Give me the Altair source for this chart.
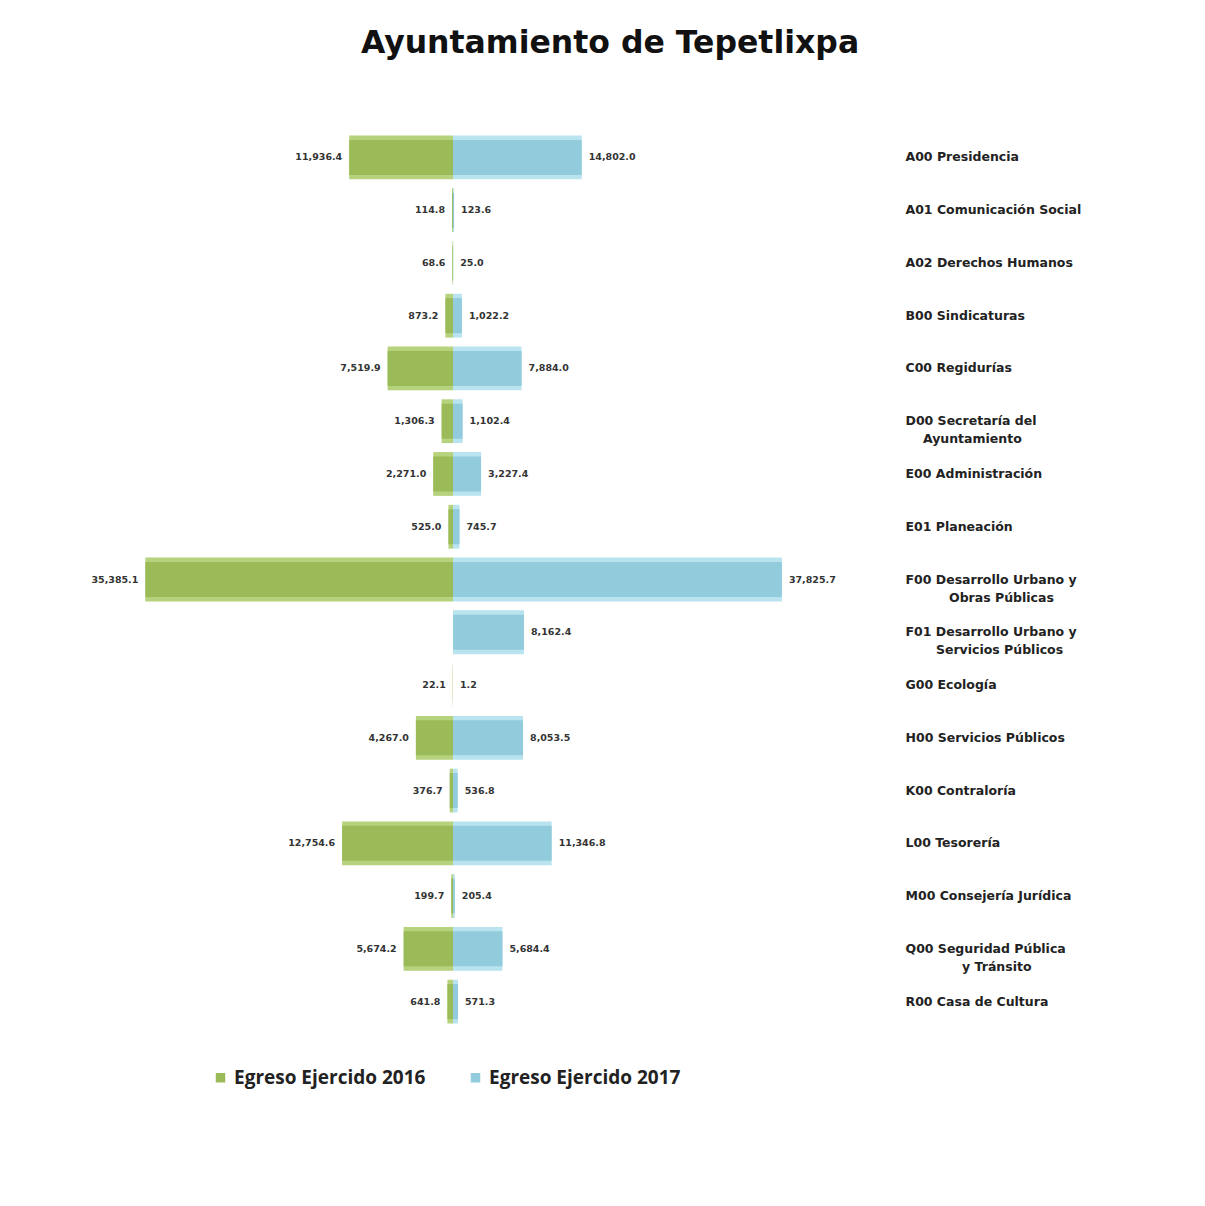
import altair as alt
import pandas as pd

ZW = "\u200b"
NB = "\u00a0"
categories = [
    "A00 Presidencia",
    "A01 Comunicación Social",
    "A02 Derechos Humanos",
    "B00 Sindicaturas",
    "C00 Regidurías",
    "D00 Secretaría del|" + ZW + NB * 4 + "Ayuntamiento",
    "E00 Administración",
    "E01 Planeación",
    "F00 Desarrollo Urbano y|" + ZW + NB * 10 + "Obras Públicas",
    "F01 Desarrollo Urbano y|" + ZW + NB * 7 + "Servicios Públicos",
    "G00 Ecología",
    "H00 Servicios Públicos",
    "K00 Contraloría",
    "L00 Tesorería",
    "M00 Consejería Jurídica",
    "Q00 Seguridad Pública|" + ZW + NB * 13 + "y Tránsito",
    "R00 Casa de Cultura",
]
v2016 = [11936.4, 114.8, 68.6, 873.2, 7519.9, 1306.3, 2271.0, 525.0, 35385.1,
         None, 22.1, 4267.0, 376.7, 12754.6, 199.7, 5674.2, 641.8]
v2017 = [14802.0, 123.6, 25.0, 1022.2, 7884.0, 1102.4, 3227.4, 745.7, 37825.7,
         8162.4, 1.2, 8053.5, 536.8, 11346.8, 205.4, 5684.4, 571.3]
series = ["Egreso Ejercido 2016", "Egreso Ejercido  2017"]
colors = ["#9BBB59", "#92CBDB"]
edge_colors = ["#B6D27C", "#B9E3EF"]

rows = []
for c, a, b in zip(categories, v2016, v2017):
    if a is not None:
        rows.append({"cat": c, "serie": series[0], "borde": series[0], "valor": a, "signed": -a})
    rows.append({"cat": c, "serie": series[1], "borde": series[1], "valor": b, "signed": b})
df = pd.DataFrame(rows)

y_enc = alt.Y(
    "cat:N",
    sort=categories,
    scale=alt.Scale(domain=categories, paddingInner=0.17, paddingOuter=0.085),
    axis=alt.Axis(
        orient="right", title=None, labelExpr="split(datum.label, '|')",
        labelAlign="left", labelBaseline="middle", labelPadding=79, ticks=False, domain=False,
        labelFont="DejaVu Sans", labelFontWeight="bold", labelFontSize=12.5,
        labelLineHeight=18, labelColor="#222222", labelLimit=300, grid=False,
    ),
)
x_enc = alt.X("signed:Q", scale=alt.Scale(domain=[-42900, 42900]), axis=None)

base = alt.Chart(df)

outer = base.mark_bar().encode(
    x=x_enc,
    x2=alt.datum(0),
    y=y_enc,
    color=alt.Color("borde:N", scale=alt.Scale(domain=series, range=edge_colors), legend=None),
)

inner = base.mark_bar(size=35).encode(
    x=x_enc,
    x2=alt.datum(0),
    y=y_enc,
    color=alt.Color(
        "serie:N",
        scale=alt.Scale(domain=series, range=colors),
        legend=alt.Legend(
            title=None, orient="none", legendX=131, legendY=937, direction="horizontal",
            symbolType="square", symbolSize=90, symbolStrokeWidth=0,
            labelFont="Open Sans", labelFontWeight="bold", labelFontSize=19,
            labelColor="#222222", columnPadding=40, labelLimit=400,
        ),
    ),
)

lab16 = base.transform_filter(alt.datum.serie == series[0]).mark_text(
    align="right", baseline="middle", dx=-7, font="DejaVu Sans",
    fontWeight="bold", fontSize=9.5, color="#333333",
).encode(x=x_enc, y=y_enc, text=alt.Text("valor:Q", format=",.1f"))

lab17 = base.transform_filter(alt.datum.serie == series[1]).mark_text(
    align="left", baseline="middle", dx=7, font="DejaVu Sans",
    fontWeight="bold", fontSize=9.5, color="#333333",
).encode(x=x_enc, y=y_enc, text=alt.Text("valor:Q", format=",.1f"))

chart = (
    alt.layer(outer, inner, lab16, lab17)
    .resolve_scale(color="independent")
    .properties(
        width=746, height=897,
        title=alt.TitleParams(
            "Ayuntamiento de Tepetlixpa", font="DejaVu Sans", fontSize=31.5,
            fontWeight="bold", color="#111111", anchor="middle", frame="group",
            dx=157, offset=72,
        ),
        autosize=alt.AutoSizeParams(type="none"),
        padding={"left": 72, "top": 123, "right": 360, "bottom": 150},
        background="white",
    )
    .configure_view(stroke=None)
)

chart.save("out.html", embed_options={"renderer": "svg", "actions": False})
